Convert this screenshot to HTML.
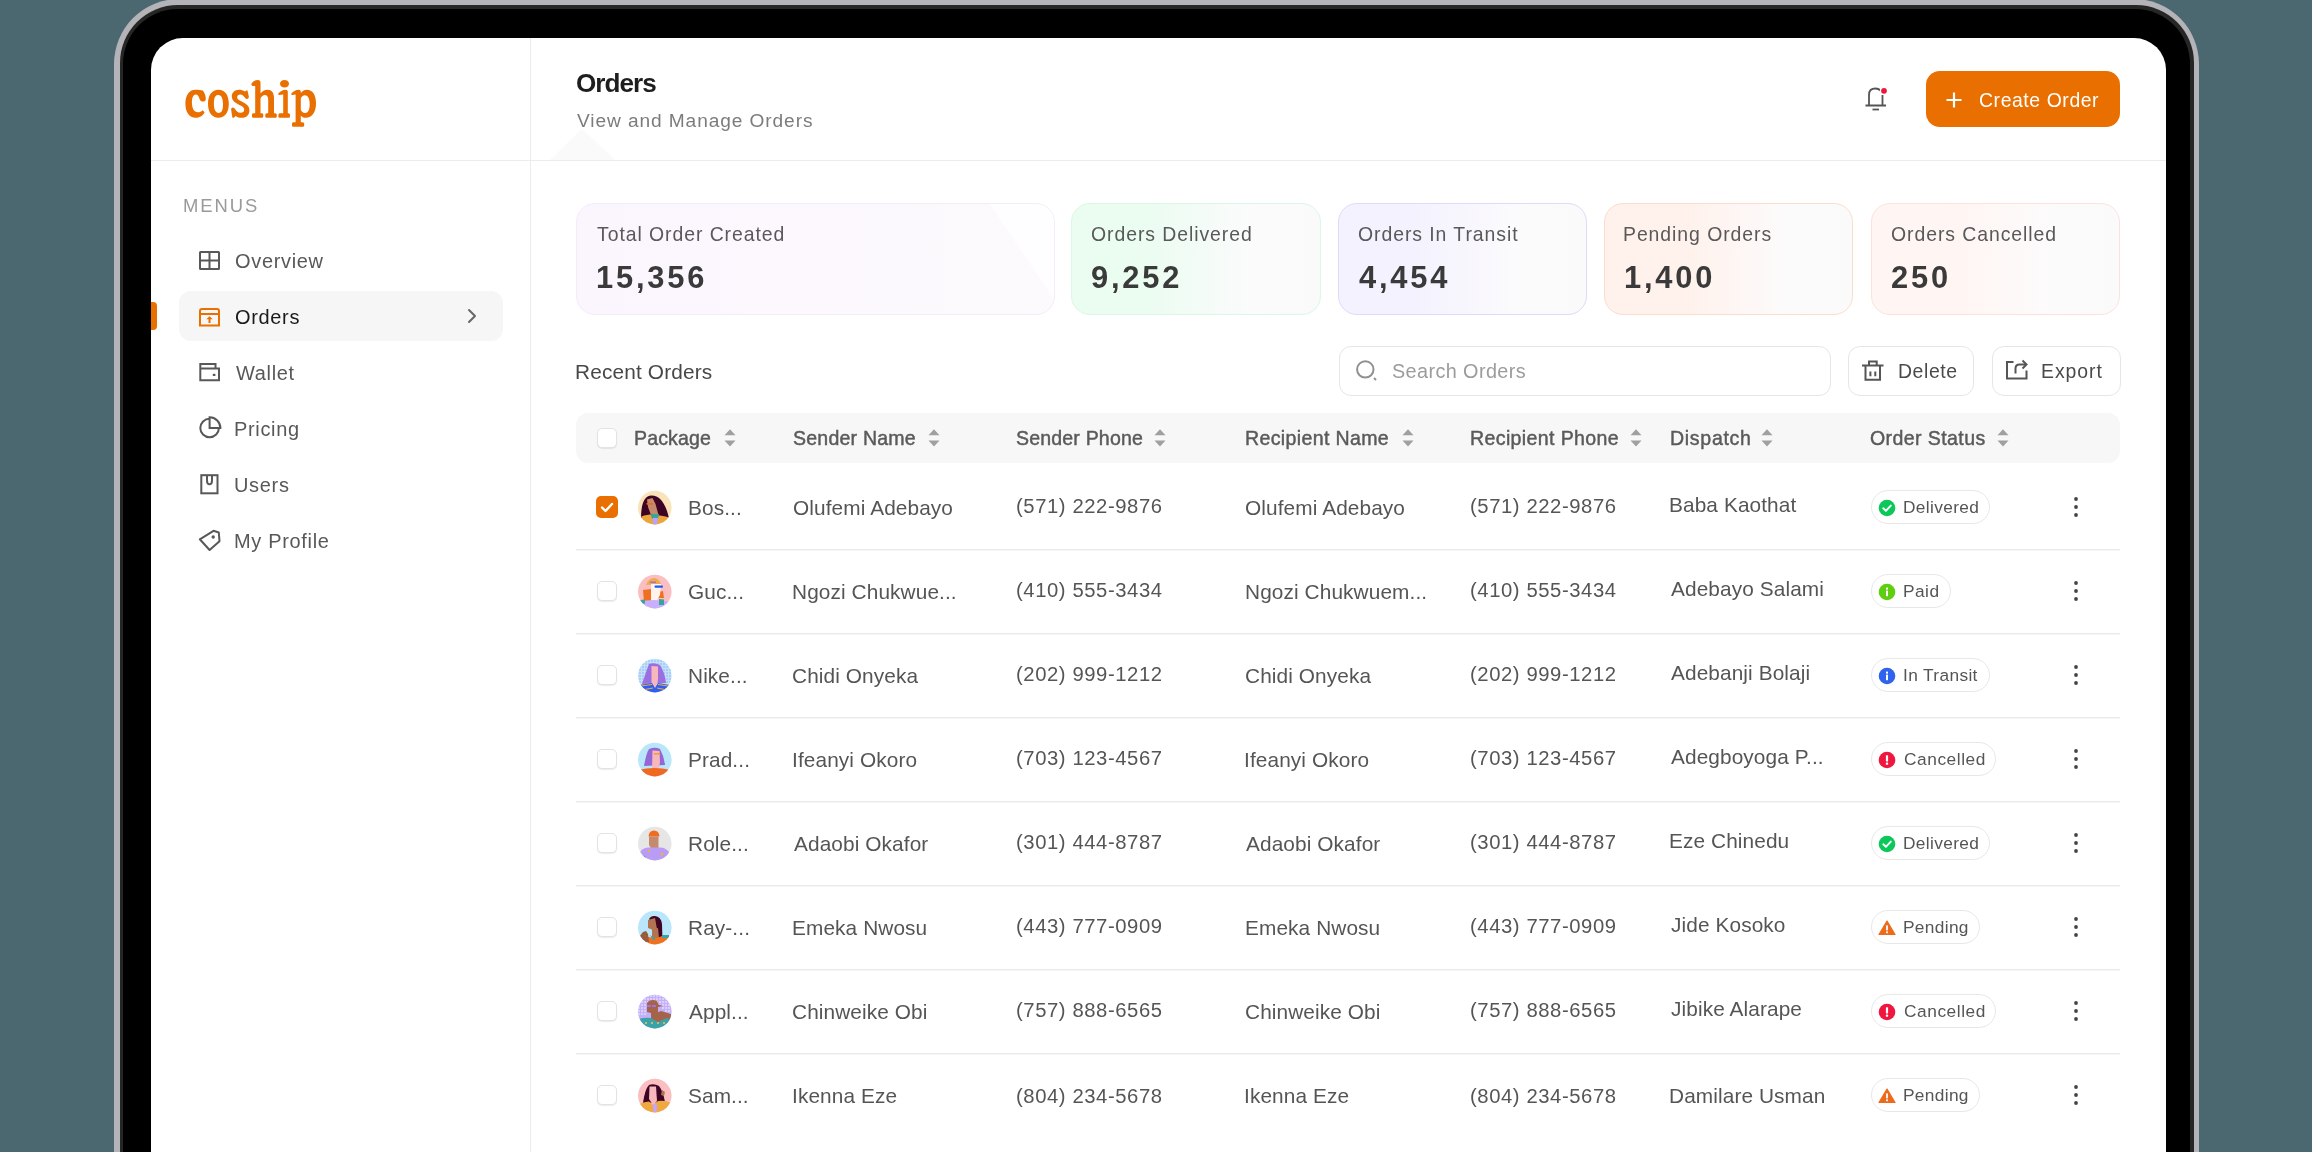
<!DOCTYPE html>
<html><head><meta charset="utf-8"><style>
html,body{margin:0;padding:0;width:2312px;height:1152px;overflow:hidden;background:#4b6770;font-family:"Liberation Sans",sans-serif;}
.t{position:absolute;white-space:nowrap;line-height:1;will-change:transform;}
</style></head><body>
<div style="position:absolute;left:114px;top:-1px;width:2085px;height:1300px;border-radius:65px;background:#b4b3b8"></div>
<div style="position:absolute;left:120px;top:5px;width:2074px;height:1300px;border-radius:58px;background:#262626"></div>
<div style="position:absolute;left:123px;top:9px;width:2067px;height:1300px;border-radius:55px;background:#000"></div>
<div style="position:absolute;left:151px;top:38px;width:2015px;height:1300px;border-radius:32px 32px 0 0;background:#fff;overflow:hidden"></div>
<svg style="position:absolute;left:540px;top:120px" width="90" height="41"><path d="M10 40L42 9L75 40Z" fill="#fafafa"/></svg>
<div style="position:absolute;left:151px;top:160px;width:2015px;height:1px;background:#ececec"></div>
<div style="position:absolute;left:530px;top:38px;width:1px;height:1200px;background:#ececec"></div>
<svg style="position:absolute;left:175px;top:65px" width="160" height="80" viewBox="0 0 160 80"><g fill="#e86f00">
<path fill-rule="evenodd" d="M20.6 24.7 C13.5 24.7 10.4 31 10.4 38.8 C10.4 47 14 52.8 20.8 52.8 C25.2 52.8 28 50.5 29.6 47.3 L27.6 45.2 C26.3 46.6 24.7 47.3 23 47.3 C18.8 47.3 16.9 43 16.9 37.5 C16.9 32.5 18.3 29.4 20.8 29.4 C22.7 29.4 23.8 31.3 24.8 34.5 C25.3 36 26.5 36.6 28 36.6 C30 36.6 30.8 35.4 30.8 33.5 C30.8 31 29.6 27.8 27.8 25.5 C26 24.9 23.5 24.7 20.6 24.7 Z"/>
<path fill-rule="evenodd" d="M43.5 24.7 C37 24.7 33 30 33 38.8 C33 47.5 37 52.8 43.5 52.8 C50 52.8 53.8 47.5 53.8 38.8 C53.8 30 50 24.7 43.5 24.7 Z M43.2 29.9 C40.3 29.9 38.9 32.5 38.9 38.5 C38.9 44.8 40.5 47.9 43.8 47.9 C46.7 47.9 48 45.3 48 39.3 C48 33 46.3 29.9 43.2 29.9 Z"/>
<path d="M72.5 25.5 C71.3 25.4 70.6 26 70 26.6 C68.2 25.3 66 24.7 64.2 24.7 C59.5 24.7 56.8 27.6 56.8 31.3 C56.8 35 59 37 63 39.2 L66.5 41.1 C68.4 42.2 69.2 43.2 69.2 44.7 C69.2 46.4 67.9 47.8 65.4 47.8 C62.8 47.8 61.5 46.4 60.4 44.6 C59.6 43.4 58.8 42.6 57.8 42.6 C56.6 42.6 56 43.5 56.2 45 L57.3 52.2 C57.5 52.8 58.6 53 59.2 52.4 L60.6 51 C62.2 52.3 64.3 52.8 66.7 52.8 C71.4 52.8 74.4 50 74.4 45.5 C74.4 41.5 72.2 39.6 68.5 37.5 L64.8 35.5 C62.8 34.4 62.2 33.6 62.2 32.4 C62.2 30.8 63.2 29.6 65.3 29.6 C67.2 29.6 68.5 30.8 69.6 32.3 C70.3 33.3 71 33.9 71.9 33.9 C73.2 33.9 74 33 73.8 31.6 Z"/>
<path d="M80.2 21 L80.2 48.2 L78.4 48.3 C77.5 48.4 77 49.1 77 50 L77 51.3 C77 52.3 77.6 52.8 78.5 52.8 L86.8 52.8 C87.8 52.8 88.3 52.2 88.3 51.3 L88.3 50 C88.3 49.1 87.7 48.4 86.8 48.3 L85.5 48.2 L85.5 33.6 C86.5 31.2 88 30 89.8 30 C92 30 93.2 31.4 93.2 35 L93.2 48.2 L91.8 48.3 C90.9 48.4 90.3 49.1 90.3 50 L90.3 51.3 C90.3 52.3 90.9 52.8 91.8 52.8 L100.3 52.8 C101.2 52.8 101.8 52.3 101.8 51.3 L101.8 50 C101.8 49.1 101.2 48.4 100.3 48.3 L99 48.2 L99 33.2 C99 27.5 96.6 24.8 92.6 24.8 C89.5 24.8 87.2 26.2 85.5 28.6 L85.5 17.4 C85.5 15.8 84.5 14.9 83 14.9 C80.3 14.9 77.8 16.5 76.6 18.4 C76 19.5 76.5 20.8 77.8 21 Z"/>
<path d="M108.2 29.6 L108.2 48.2 L104.8 48.3 C103.9 48.4 103.4 49.1 103.4 50 L103.4 51.3 C103.4 52.3 104 52.8 104.9 52.8 L113.5 52.8 C114.4 52.8 115 52.3 115 51.3 L115 50 C115 49.1 114.4 48.4 113.5 48.3 L112.8 48.2 L112.8 26.8 C112.8 25.5 112 24.7 110.8 24.7 C107.5 24.8 105 26.6 103.6 28.2 C103 29 103.4 30 104.4 30 Z"/>
<ellipse cx="109.5" cy="18.8" rx="4.5" ry="3.8"/>
<path fill-rule="evenodd" d="M120.6 29.6 L120.6 57.2 L118.4 57.3 C117.5 57.4 117 58.1 117 59 L117 60.3 C117 61.3 117.6 61.8 118.5 61.8 L127.6 61.8 C128.6 61.8 129.2 61.3 129.2 60.3 L129.2 59 C129.2 58.1 128.6 57.4 127.6 57.3 L125.8 57.2 L125.8 50.5 C127 52 128.5 52.8 130.6 52.8 C137.2 52.8 141 47 141 38.2 C141 29.5 137.6 24.7 131.8 24.7 C129 24.7 127.2 26 125.8 28 L125.8 26.8 C125.8 25.5 125 24.7 123.8 24.7 C120.5 24.8 118 26.6 116.6 28.2 C116 29 116.4 30 117.4 30 Z M125.8 33.5 C126.8 31.3 128.2 30.2 129.8 30.2 C132.8 30.2 134.7 33 134.7 39.2 C134.7 45 133 47.9 130.2 47.9 C128.2 47.9 126.8 46.9 125.8 45 Z"/>
</g></svg>
<div class="t" style="left:183.23px;top:197.39px;font-size:18.436px;letter-spacing:1.970px;color:#9a9a9a;font-weight:normal;">MENUS</div>
<div style="position:absolute;left:179px;top:291px;width:324px;height:50px;border-radius:12px;background:#f6f6f6"></div>
<div style="position:absolute;left:151px;top:302px;width:6px;height:28px;border-radius:0 4px 4px 0;background:#e86f00"></div>
<div class="t" style="left:234.90px;top:251.89px;font-size:19.972px;letter-spacing:0.680px;color:#585858;font-weight:normal;">Overview</div>
<div class="t" style="left:234.90px;top:307.89px;font-size:19.972px;letter-spacing:0.680px;color:#1a1a1a;font-weight:normal;">Orders</div>
<div class="t" style="left:235.70px;top:363.89px;font-size:19.972px;letter-spacing:0.680px;color:#585858;font-weight:normal;">Wallet</div>
<div class="t" style="left:234.10px;top:419.89px;font-size:19.972px;letter-spacing:0.680px;color:#585858;font-weight:normal;">Pricing</div>
<div class="t" style="left:234.30px;top:475.89px;font-size:19.972px;letter-spacing:0.680px;color:#585858;font-weight:normal;">Users</div>
<div class="t" style="left:234.10px;top:531.89px;font-size:19.972px;letter-spacing:0.680px;color:#585858;font-weight:normal;">My Profile</div>
<svg style="position:absolute;left:462px;top:305px" width="20" height="22" viewBox="0 0 20 22"><path d="M7 5 L13 11 L7 17" fill="none" stroke="#666" stroke-width="2" stroke-linecap="round" stroke-linejoin="round"/></svg>
<svg style="position:absolute;left:197px;top:250px" width="24" height="22" viewBox="0 0 24 22"><rect x="3" y="2" width="19" height="17" rx="0.5" fill="none" stroke="#585858" stroke-width="2"/><path d="M12.5 2V19M3 10.5H22" stroke="#585858" stroke-width="2"/></svg>
<svg style="position:absolute;left:197px;top:306px" width="24" height="22" viewBox="0 0 24 22"><path d="M3 8H22 M3 19.5V5Q3 3 5 3H20Q22 3 22 5V19.5Z" fill="none" stroke="#e86f00" stroke-width="2"/><path d="M12.5 17V12" stroke="#e86f00" stroke-width="2"/><path d="M9.3 13.3L12.5 10.3L15.7 13.3Z" fill="#e86f00"/></svg>
<svg style="position:absolute;left:197px;top:359px" width="28" height="28" viewBox="0 0 28 28"><g transform="translate(0,3)"><path d="M3.3 6.5V2H18.5V6.5 M3.3 6.5H22V18.3H3.3Z" fill="none" stroke="#585858" stroke-width="2" stroke-linejoin="miter"/><rect x="15.8" y="11.8" width="2.6" height="2.2" fill="#585858"/></g></svg>
<svg style="position:absolute;left:197px;top:415px" width="28" height="28" viewBox="0 0 28 28"><path d="M12.6 3.7A9.3 9.3 0 1 0 21.9 13" fill="none" stroke="#585858" stroke-width="2"/><path d="M12.6 2.3V13.1H23.4A10.8 10.8 0 0 0 12.6 2.3Z" fill="none" stroke="#585858" stroke-width="2" stroke-linejoin="miter"/></svg>
<svg style="position:absolute;left:197px;top:471px" width="28" height="28" viewBox="0 0 28 28"><rect x="4.3" y="4.2" width="16.2" height="18.1" fill="none" stroke="#585858" stroke-width="2"/><path d="M10 4.2V9.5Q10 13.3 12.5 13.3Q15 13.3 15 9.5V4.2" fill="none" stroke="#585858" stroke-width="2"/></svg>
<svg style="position:absolute;left:197px;top:527px" width="28" height="28" viewBox="0 0 28 28"><path d="M2.8 12.3L16.5 3.8L21.8 5.5L22.5 14.2L12.6 23Z" fill="none" stroke="#585858" stroke-width="2" stroke-linejoin="round"/><circle cx="16.2" cy="10" r="1.7" fill="#585858"/></svg>
<div class="t" style="left:575.96px;top:69.89px;font-size:26.117px;letter-spacing:-0.992px;color:#1e1e1e;font-weight:bold;">Orders</div>
<div class="t" style="left:577.00px;top:110.80px;font-size:19.134px;letter-spacing:0.902px;color:#7c7c7c;font-weight:normal;">View and Manage Orders</div>
<svg style="position:absolute;left:1862px;top:83px" width="28" height="30" viewBox="0 0 28 30"><path d="M3.5 22.5H24 M7 22.5V12Q7 5.5 13.5 5.5Q16.5 5.5 18.5 7.5 M20.5 12V22.5" fill="none" stroke="#555" stroke-width="1.8"/><path d="M10.5 26.5H17" stroke="#555" stroke-width="1.8"/><circle cx="22" cy="7.8" r="4.2" fill="#fff"/><circle cx="22" cy="7.8" r="2.9" fill="#f0163a"/></svg>
<div style="position:absolute;left:1926px;top:71px;width:194px;height:56px;border-radius:14px;background:#e86f00"></div>
<svg style="position:absolute;left:1945px;top:91px" width="18" height="18" viewBox="0 0 18 18"><path d="M9 1.5V16.5M1.5 9H16.5" stroke="#fff" stroke-width="2.2"/></svg>
<div class="t" style="left:1979.03px;top:90.67px;font-size:19.413px;letter-spacing:0.576px;color:#fff;font-weight:normal;">Create Order</div>
<div style="position:absolute;left:576px;top:203px;width:479px;height:112px;box-sizing:border-box;border-radius:19px;border:1.5px solid #f4ecfb;background:linear-gradient(90deg,#fbf5fe 0%,#fcf8fe 40%,#fcfafd 100%);overflow:hidden"><svg style="position:absolute;left:0;top:0" width="480" height="112"><path d="M413 0H480V100Z" fill="#fefdff"/></svg></div>
<div class="t" style="left:596.51px;top:224.57px;font-size:19.413px;letter-spacing:0.940px;color:#595959;font-weight:normal;">Total Order Created</div>
<div class="t" style="left:595.55px;top:262.87px;font-size:30.866px;letter-spacing:2.800px;color:#3a3a3a;font-weight:bold;">15,356</div>
<div style="position:absolute;left:1071px;top:203px;width:250px;height:112px;box-sizing:border-box;border-radius:19px;border:1.5px solid #d9f9e4;background:linear-gradient(90deg,#ebfcf1 0%,#ebfcf1 30%,#fcfbfc 75%,#fafafb 100%)"></div>
<div class="t" style="left:1091.12px;top:224.57px;font-size:19.413px;letter-spacing:0.940px;color:#595959;font-weight:normal;">Orders Delivered</div>
<div class="t" style="left:1091.47px;top:262.87px;font-size:30.866px;letter-spacing:2.800px;color:#3a3a3a;font-weight:bold;">9,252</div>
<div style="position:absolute;left:1338px;top:203px;width:249px;height:112px;box-sizing:border-box;border-radius:19px;border:1.5px solid #dedafb;background:linear-gradient(90deg,#f4f2fe 0%,#f4f2fe 30%,#fcfbfc 75%,#fafafb 100%)"></div>
<div class="t" style="left:1358.12px;top:224.57px;font-size:19.413px;letter-spacing:0.940px;color:#595959;font-weight:normal;">Orders In Transit</div>
<div class="t" style="left:1359.09px;top:262.87px;font-size:30.866px;letter-spacing:2.800px;color:#3a3a3a;font-weight:bold;">4,454</div>
<div style="position:absolute;left:1604px;top:203px;width:249px;height:112px;box-sizing:border-box;border-radius:19px;border:1.5px solid #fcdccc;background:linear-gradient(90deg,#fff1eb 0%,#fff1eb 30%,#fcfbfc 75%,#fafafb 100%)"></div>
<div class="t" style="left:1623.35px;top:224.57px;font-size:19.413px;letter-spacing:0.940px;color:#595959;font-weight:normal;">Pending Orders</div>
<div class="t" style="left:1623.55px;top:262.87px;font-size:30.866px;letter-spacing:2.800px;color:#3a3a3a;font-weight:bold;">1,400</div>
<div style="position:absolute;left:1871px;top:203px;width:249px;height:112px;box-sizing:border-box;border-radius:19px;border:1.5px solid #fbe3dc;background:linear-gradient(90deg,#fff5f2 0%,#fff5f2 30%,#fcfbfc 75%,#fafafb 100%)"></div>
<div class="t" style="left:1891.12px;top:224.57px;font-size:19.413px;letter-spacing:0.940px;color:#595959;font-weight:normal;">Orders Cancelled</div>
<div class="t" style="left:1891.47px;top:262.87px;font-size:30.866px;letter-spacing:2.800px;color:#3a3a3a;font-weight:bold;">250</div>
<div class="t" style="left:575.34px;top:361.68px;font-size:20.810px;letter-spacing:0.164px;color:#484848;font-weight:normal;">Recent Orders</div>
<div style="position:absolute;left:1339px;top:346px;width:490px;height:48px;border-radius:12px;border:1px solid #e6e6e6;background:#fff"></div>
<svg style="position:absolute;left:1352px;top:356px" width="28" height="28" viewBox="0 0 28 28"><circle cx="13.3" cy="13.4" r="8.2" fill="none" stroke="#909090" stroke-width="2"/><path d="M22 22L24 24" stroke="#909090" stroke-width="2" stroke-linecap="butt"/></svg>
<div class="t" style="left:1392.01px;top:361.71px;font-size:19.832px;letter-spacing:0.394px;color:#9c9c9c;font-weight:normal;">Search Orders</div>
<div style="position:absolute;left:1848px;top:346px;width:124px;height:48px;border-radius:12px;border:1px solid #e6e6e6;background:#fff"></div>
<svg style="position:absolute;left:1860px;top:358px" width="26" height="26" viewBox="0 0 26 26"><path d="M2 7.5H23.5M9 7.5V3.5H16.7V7.5M5.5 7.5V21.8H20V7.5M10.4 13.5V18.3M15.3 13.5V18.3" fill="none" stroke="#555" stroke-width="2"/></svg>
<div class="t" style="left:1897.95px;top:362.27px;font-size:19.413px;letter-spacing:0.608px;color:#4a4a4a;font-weight:normal;">Delete</div>
<div style="position:absolute;left:1992px;top:346px;width:127px;height:48px;border-radius:12px;border:1px solid #e6e6e6;background:#fff"></div>
<svg style="position:absolute;left:2004px;top:356px" width="26" height="26" viewBox="0 0 26 26"><path d="M9.5 6H3V22.5H22.5V14.5" fill="none" stroke="#555" stroke-width="2"/><path d="M11.5 17.5V12.5Q11.5 8.5 15.5 8.5H22" fill="none" stroke="#555" stroke-width="2"/><path d="M18.5 4.5L22.5 8.5L18.5 12.5" fill="none" stroke="#555" stroke-width="2"/></svg>
<div class="t" style="left:2041.45px;top:362.27px;font-size:19.413px;letter-spacing:0.961px;color:#4a4a4a;font-weight:normal;">Export</div>
<div style="position:absolute;left:576px;top:413px;width:1544px;height:50px;border-radius:12px;background:#f7f7f7"></div>
<div style="position:absolute;left:597px;top:428px;width:18px;height:18px;border-radius:5px;border:1px solid #e3e3e3;background:#fff;box-shadow:0 1px 1px rgba(0,0,0,0.08)"></div>
<div class="t" style="left:634.34px;top:429.15px;font-size:19.553px;letter-spacing:0.146px;color:#5a5a5a;font-weight:normal;-webkit-text-stroke:0.45px #5a5a5a;">Package</div>
<svg style="position:absolute;left:724px;top:429px" width="12" height="18" viewBox="0 0 12 18"><path d="M6 0.2L11.5 6.3H0.5Z M6 17.6L11.5 11.5H0.5Z" fill="#a0a0a0"/></svg>
<div class="t" style="left:792.92px;top:429.15px;font-size:19.553px;letter-spacing:0.205px;color:#5a5a5a;font-weight:normal;-webkit-text-stroke:0.45px #5a5a5a;">Sender Name</div>
<svg style="position:absolute;left:928px;top:429px" width="12" height="18" viewBox="0 0 12 18"><path d="M6 0.2L11.5 6.3H0.5Z M6 17.6L11.5 11.5H0.5Z" fill="#a0a0a0"/></svg>
<div class="t" style="left:1015.52px;top:429.15px;font-size:19.553px;letter-spacing:0.170px;color:#5a5a5a;font-weight:normal;-webkit-text-stroke:0.45px #5a5a5a;">Sender Phone</div>
<svg style="position:absolute;left:1154px;top:429px" width="12" height="18" viewBox="0 0 12 18"><path d="M6 0.2L11.5 6.3H0.5Z M6 17.6L11.5 11.5H0.5Z" fill="#a0a0a0"/></svg>
<div class="t" style="left:1244.94px;top:429.15px;font-size:19.553px;letter-spacing:0.359px;color:#5a5a5a;font-weight:normal;-webkit-text-stroke:0.45px #5a5a5a;">Recipient Name</div>
<svg style="position:absolute;left:1402px;top:429px" width="12" height="18" viewBox="0 0 12 18"><path d="M6 0.2L11.5 6.3H0.5Z M6 17.6L11.5 11.5H0.5Z" fill="#a0a0a0"/></svg>
<div class="t" style="left:1469.54px;top:429.15px;font-size:19.553px;letter-spacing:0.377px;color:#5a5a5a;font-weight:normal;-webkit-text-stroke:0.45px #5a5a5a;">Recipient Phone</div>
<svg style="position:absolute;left:1630px;top:429px" width="12" height="18" viewBox="0 0 12 18"><path d="M6 0.2L11.5 6.3H0.5Z M6 17.6L11.5 11.5H0.5Z" fill="#a0a0a0"/></svg>
<div class="t" style="left:1669.54px;top:429.15px;font-size:19.553px;letter-spacing:0.698px;color:#5a5a5a;font-weight:normal;-webkit-text-stroke:0.45px #5a5a5a;">Dispatch</div>
<svg style="position:absolute;left:1761px;top:429px" width="12" height="18" viewBox="0 0 12 18"><path d="M6 0.2L11.5 6.3H0.5Z M6 17.6L11.5 11.5H0.5Z" fill="#a0a0a0"/></svg>
<div class="t" style="left:1870.02px;top:429.15px;font-size:19.553px;letter-spacing:0.402px;color:#5a5a5a;font-weight:normal;-webkit-text-stroke:0.45px #5a5a5a;">Order Status</div>
<svg style="position:absolute;left:1997px;top:429px" width="12" height="18" viewBox="0 0 12 18"><path d="M6 0.2L11.5 6.3H0.5Z M6 17.6L11.5 11.5H0.5Z" fill="#a0a0a0"/></svg>
<div style="position:absolute;left:576px;top:549px;width:1544px;height:1px;background:#eaeaea"></div><div style="position:absolute;left:576px;top:550px;width:1544px;height:1px;background:#f6f6f6"></div>
<div style="position:absolute;left:596px;top:496px;width:22px;height:22px;border-radius:5px;background:#e86f00"></div>
<svg style="position:absolute;left:596px;top:496px" width="22" height="22" viewBox="0 0 22 22"><path d="M6 11.5L9.5 15L16 8" fill="none" stroke="#fff" stroke-width="2.4" stroke-linecap="round" stroke-linejoin="round"/></svg>
<svg style="position:absolute;left:634px;top:487px" width="42" height="42" viewBox="0 0 42 42"><defs><clipPath id="av0"><circle cx="20.8" cy="20.6" r="16.8"/></clipPath></defs><g clip-path="url(#av0)"><rect width="42" height="42" fill="#fae3b8"/><path d="M7 31 C7 18 10 8.5 17.5 8.5 C25 8.5 30 15 33 24 L35 31 Z" fill="#3d0424"/><path d="M13 12.5 L18.5 11 L21.5 17 L24.5 28 L17 28 L14 20 Z" fill="#c58a6b"/><rect x="12.5" y="16" width="6.5" height="1.6" fill="#f26b1d"/><path d="M4 31 Q10 27.5 16 27.5 L26 28.5 Q32 29 37 31 L37 42 L4 42 Z" fill="#eca53b"/><path d="M16.5 27 L25 27 L24 32 L18 32 Z" fill="#3aa39a"/><path d="M18.5 31 L24 31 L23 38 L19.5 38 Z" fill="#b9a2ff"/></g></svg>
<div class="t" style="left:687.64px;top:498.48px;font-size:20.810px;letter-spacing:0.110px;color:#555555;font-weight:normal;">Bos...</div>
<div class="t" style="left:792.67px;top:498.48px;font-size:20.810px;letter-spacing:0.110px;color:#555555;font-weight:normal;">Olufemi Adebayo</div>
<div class="t" style="left:1015.88px;top:495.76px;font-size:20.251px;letter-spacing:0.580px;color:#555555;font-weight:normal;">(571) 222-9876</div>
<div class="t" style="left:1245.37px;top:498.48px;font-size:20.810px;letter-spacing:0.110px;color:#555555;font-weight:normal;">Olufemi Adebayo</div>
<div class="t" style="left:1470.28px;top:495.76px;font-size:20.251px;letter-spacing:0.580px;color:#555555;font-weight:normal;">(571) 222-9876</div>
<div class="t" style="left:1669.34px;top:495.28px;font-size:20.810px;letter-spacing:0.110px;color:#555555;font-weight:normal;">Baba Kaothat</div>
<div style="position:absolute;left:1870.6px;top:489.8px;width:119.9px;height:34.5px;box-sizing:border-box;border:1.5px solid #e8e8e8;border-radius:17.5px;background:#fff"></div><svg style="position:absolute;left:1878.1px;top:498.7px" width="18" height="18" viewBox="0 0 18 18"><circle cx="9" cy="9" r="8.3" fill="#0cc75a"/><path d="M5.3 9.3L7.9 11.8L12.8 6.6" fill="none" stroke="#fff" stroke-width="1.9" stroke-linecap="round" stroke-linejoin="round"/></svg><div class="t" style="left:1903.41px;top:498.94px;font-size:17.318px;letter-spacing:0.350px;color:#555;font-weight:normal;">Delivered</div>
<svg style="position:absolute;left:2072px;top:496px" width="8" height="22" viewBox="0 0 8 22"><circle cx="4" cy="3" r="1.9" fill="#444"/><circle cx="4" cy="11" r="1.9" fill="#444"/><circle cx="4" cy="19" r="1.9" fill="#444"/></svg>
<div style="position:absolute;left:576px;top:633px;width:1544px;height:1px;background:#eaeaea"></div><div style="position:absolute;left:576px;top:634px;width:1544px;height:1px;background:#f6f6f6"></div>
<div style="position:absolute;left:597px;top:581px;width:18px;height:18px;border-radius:5px;border:1px solid #e3e3e3;background:#fff;box-shadow:0 1px 1px rgba(0,0,0,0.08)"></div>
<svg style="position:absolute;left:634px;top:571px" width="42" height="42" viewBox="0 0 42 42"><defs><clipPath id="av1"><circle cx="20.8" cy="20.6" r="16.8"/></clipPath></defs><g clip-path="url(#av1)"><rect width="42" height="42" fill="#fbbfc1"/><path d="M12 14 Q15 6.5 21 7 Q25 8 27 13 Z" fill="#f0aa4a"/><rect x="16" y="10.5" width="6" height="1.5" fill="#9f72e0"/><path d="M9 19 L17 18 L18 31 L10 31 Z" fill="#f07022"/><path d="M24 21 L29 20 L30 27 L24 27 Z" fill="#f07022"/><path d="M17 13 L27 13 L26 24 L22 31 L17 31 Z" fill="#fff3ec"/><rect x="20.5" y="14.5" width="8.5" height="2.2" rx="1" fill="#1b5cf0"/><path d="M4 31 Q20 27 37 31 L37 42 L4 42 Z" fill="#c9b0ff"/><path d="M6 29 L11 28.5 L11 32.5 L6 33 Z M25 28 L30 28.5 L30 34 L25 34 Z" fill="#3aa39a"/></g></svg>
<div class="t" style="left:688.26px;top:582.48px;font-size:20.810px;letter-spacing:0.110px;color:#555555;font-weight:normal;">Guc...</div>
<div class="t" style="left:791.84px;top:582.48px;font-size:20.810px;letter-spacing:0.110px;color:#555555;font-weight:normal;">Ngozi Chukwue...</div>
<div class="t" style="left:1015.88px;top:579.76px;font-size:20.251px;letter-spacing:0.580px;color:#555555;font-weight:normal;">(410) 555-3434</div>
<div class="t" style="left:1244.54px;top:582.48px;font-size:20.810px;letter-spacing:0.110px;color:#555555;font-weight:normal;">Ngozi Chukwuem...</div>
<div class="t" style="left:1470.28px;top:579.76px;font-size:20.251px;letter-spacing:0.580px;color:#555555;font-weight:normal;">(410) 555-3434</div>
<div class="t" style="left:1671.00px;top:579.28px;font-size:20.810px;letter-spacing:0.110px;color:#555555;font-weight:normal;">Adebayo Salami</div>
<div style="position:absolute;left:1870.6px;top:573.8px;width:80.0px;height:34.5px;box-sizing:border-box;border:1.5px solid #e8e8e8;border-radius:17.5px;background:#fff"></div><svg style="position:absolute;left:1878.1px;top:582.7px" width="18" height="18" viewBox="0 0 18 18"><circle cx="9" cy="9" r="8.3" fill="#5fce10"/><rect x="8" y="7.6" width="2" height="5.6" fill="#fff"/><rect x="8" y="4.6" width="2" height="2" fill="#fff"/></svg><div class="t" style="left:1903.41px;top:582.94px;font-size:17.318px;letter-spacing:0.465px;color:#555;font-weight:normal;">Paid</div>
<svg style="position:absolute;left:2072px;top:580px" width="8" height="22" viewBox="0 0 8 22"><circle cx="4" cy="3" r="1.9" fill="#444"/><circle cx="4" cy="11" r="1.9" fill="#444"/><circle cx="4" cy="19" r="1.9" fill="#444"/></svg>
<div style="position:absolute;left:576px;top:717px;width:1544px;height:1px;background:#eaeaea"></div><div style="position:absolute;left:576px;top:718px;width:1544px;height:1px;background:#f6f6f6"></div>
<div style="position:absolute;left:597px;top:665px;width:18px;height:18px;border-radius:5px;border:1px solid #e3e3e3;background:#fff;box-shadow:0 1px 1px rgba(0,0,0,0.08)"></div>
<svg style="position:absolute;left:634px;top:655px" width="42" height="42" viewBox="0 0 42 42"><defs><clipPath id="av2"><circle cx="20.8" cy="20.6" r="16.8"/></clipPath></defs><g clip-path="url(#av2)"><rect width="42" height="42" fill="#b9e6fa"/><circle cx="6" cy="6" r="0.7" fill="#b48cf0"/><circle cx="6" cy="9" r="0.7" fill="#b48cf0"/><circle cx="6" cy="12" r="0.7" fill="#b48cf0"/><circle cx="6" cy="15" r="0.7" fill="#b48cf0"/><circle cx="6" cy="18" r="0.7" fill="#b48cf0"/><circle cx="6" cy="21" r="0.7" fill="#b48cf0"/><circle cx="6" cy="24" r="0.7" fill="#b48cf0"/><circle cx="6" cy="27" r="0.7" fill="#b48cf0"/><circle cx="9" cy="6" r="0.7" fill="#b48cf0"/><circle cx="9" cy="9" r="0.7" fill="#b48cf0"/><circle cx="9" cy="12" r="0.7" fill="#b48cf0"/><circle cx="9" cy="15" r="0.7" fill="#b48cf0"/><circle cx="9" cy="18" r="0.7" fill="#b48cf0"/><circle cx="9" cy="21" r="0.7" fill="#b48cf0"/><circle cx="9" cy="24" r="0.7" fill="#b48cf0"/><circle cx="9" cy="27" r="0.7" fill="#b48cf0"/><circle cx="12" cy="6" r="0.7" fill="#b48cf0"/><circle cx="12" cy="9" r="0.7" fill="#b48cf0"/><circle cx="12" cy="12" r="0.7" fill="#b48cf0"/><circle cx="12" cy="15" r="0.7" fill="#b48cf0"/><circle cx="12" cy="18" r="0.7" fill="#b48cf0"/><circle cx="12" cy="21" r="0.7" fill="#b48cf0"/><circle cx="12" cy="24" r="0.7" fill="#b48cf0"/><circle cx="12" cy="27" r="0.7" fill="#b48cf0"/><circle cx="15" cy="6" r="0.7" fill="#b48cf0"/><circle cx="15" cy="9" r="0.7" fill="#b48cf0"/><circle cx="15" cy="12" r="0.7" fill="#b48cf0"/><circle cx="15" cy="15" r="0.7" fill="#b48cf0"/><circle cx="15" cy="27" r="0.7" fill="#b48cf0"/><circle cx="18" cy="6" r="0.7" fill="#b48cf0"/><circle cx="18" cy="9" r="0.7" fill="#b48cf0"/><circle cx="18" cy="12" r="0.7" fill="#b48cf0"/><circle cx="21" cy="6" r="0.7" fill="#b48cf0"/><circle cx="21" cy="9" r="0.7" fill="#b48cf0"/><circle cx="21" cy="12" r="0.7" fill="#b48cf0"/><circle cx="24" cy="6" r="0.7" fill="#b48cf0"/><circle cx="24" cy="9" r="0.7" fill="#b48cf0"/><circle cx="24" cy="12" r="0.7" fill="#b48cf0"/><circle cx="27" cy="6" r="0.7" fill="#b48cf0"/><circle cx="27" cy="9" r="0.7" fill="#b48cf0"/><circle cx="27" cy="12" r="0.7" fill="#b48cf0"/><circle cx="27" cy="15" r="0.7" fill="#b48cf0"/><circle cx="27" cy="27" r="0.7" fill="#b48cf0"/><circle cx="30" cy="6" r="0.7" fill="#b48cf0"/><circle cx="30" cy="9" r="0.7" fill="#b48cf0"/><circle cx="30" cy="12" r="0.7" fill="#b48cf0"/><circle cx="30" cy="15" r="0.7" fill="#b48cf0"/><circle cx="30" cy="18" r="0.7" fill="#b48cf0"/><circle cx="30" cy="21" r="0.7" fill="#b48cf0"/><circle cx="30" cy="24" r="0.7" fill="#b48cf0"/><circle cx="30" cy="27" r="0.7" fill="#b48cf0"/><circle cx="33" cy="6" r="0.7" fill="#b48cf0"/><circle cx="33" cy="9" r="0.7" fill="#b48cf0"/><circle cx="33" cy="12" r="0.7" fill="#b48cf0"/><circle cx="33" cy="15" r="0.7" fill="#b48cf0"/><circle cx="33" cy="18" r="0.7" fill="#b48cf0"/><circle cx="33" cy="21" r="0.7" fill="#b48cf0"/><circle cx="33" cy="24" r="0.7" fill="#b48cf0"/><circle cx="33" cy="27" r="0.7" fill="#b48cf0"/><circle cx="36" cy="6" r="0.7" fill="#b48cf0"/><circle cx="36" cy="9" r="0.7" fill="#b48cf0"/><circle cx="36" cy="12" r="0.7" fill="#b48cf0"/><circle cx="36" cy="15" r="0.7" fill="#b48cf0"/><circle cx="36" cy="18" r="0.7" fill="#b48cf0"/><circle cx="36" cy="21" r="0.7" fill="#b48cf0"/><circle cx="36" cy="24" r="0.7" fill="#b48cf0"/><circle cx="36" cy="27" r="0.7" fill="#b48cf0"/><path d="M8 29 Q12 17 15 9 Q20 7 26 10 Q31 18 32 28 Z" fill="#9c6fe0"/><path d="M17.5 11 L24 11.5 L24 24 L23 33 L17.5 33 Z" fill="#f8b7bd"/><path d="M5 30 L18 28 L21 33 L24 28 L36 30 L36 42 L5 42 Z" fill="#2e5ff0"/><path d="M7 31 L18 29.5 M24 29.5 L34 31 M8 35 L19 33 M23 33 L33 35" stroke="#f0a940" stroke-width="1.2"/></g></svg>
<div class="t" style="left:687.64px;top:666.48px;font-size:20.810px;letter-spacing:0.110px;color:#555555;font-weight:normal;">Nike...</div>
<div class="t" style="left:792.46px;top:666.48px;font-size:20.810px;letter-spacing:0.110px;color:#555555;font-weight:normal;">Chidi Onyeka</div>
<div class="t" style="left:1015.88px;top:663.76px;font-size:20.251px;letter-spacing:0.580px;color:#555555;font-weight:normal;">(202) 999-1212</div>
<div class="t" style="left:1245.16px;top:666.48px;font-size:20.810px;letter-spacing:0.110px;color:#555555;font-weight:normal;">Chidi Onyeka</div>
<div class="t" style="left:1470.28px;top:663.76px;font-size:20.251px;letter-spacing:0.580px;color:#555555;font-weight:normal;">(202) 999-1212</div>
<div class="t" style="left:1671.00px;top:663.28px;font-size:20.810px;letter-spacing:0.110px;color:#555555;font-weight:normal;">Adebanji Bolaji</div>
<div style="position:absolute;left:1870.6px;top:657.8px;width:119.6px;height:34.5px;box-sizing:border-box;border:1.5px solid #e8e8e8;border-radius:17.5px;background:#fff"></div><svg style="position:absolute;left:1878.1px;top:666.7px" width="18" height="18" viewBox="0 0 18 18"><circle cx="9" cy="9" r="8.3" fill="#2f63ee"/><rect x="8" y="7.6" width="2" height="5.6" fill="#fff"/><rect x="8" y="4.6" width="2" height="2" fill="#fff"/></svg><div class="t" style="left:1903.24px;top:666.94px;font-size:17.318px;letter-spacing:0.365px;color:#555;font-weight:normal;">In Transit</div>
<svg style="position:absolute;left:2072px;top:664px" width="8" height="22" viewBox="0 0 8 22"><circle cx="4" cy="3" r="1.9" fill="#444"/><circle cx="4" cy="11" r="1.9" fill="#444"/><circle cx="4" cy="19" r="1.9" fill="#444"/></svg>
<div style="position:absolute;left:576px;top:801px;width:1544px;height:1px;background:#eaeaea"></div><div style="position:absolute;left:576px;top:802px;width:1544px;height:1px;background:#f6f6f6"></div>
<div style="position:absolute;left:597px;top:749px;width:18px;height:18px;border-radius:5px;border:1px solid #e3e3e3;background:#fff;box-shadow:0 1px 1px rgba(0,0,0,0.08)"></div>
<svg style="position:absolute;left:634px;top:739px" width="42" height="42" viewBox="0 0 42 42"><defs><clipPath id="av3"><circle cx="20.8" cy="20.6" r="16.8"/></clipPath></defs><g clip-path="url(#av3)"><rect width="42" height="42" fill="#b9e6fa"/><path d="M10 27 Q12 15 15 10 Q21 7.5 26 10 Q30 17 31 26 L10 27 Z" fill="#9566d6"/><path d="M18.5 11.5 L25.5 12 L26 24 L24 31 L18 31 Z" fill="#f8b7bd"/><rect x="20" y="14" width="6" height="1.6" fill="#f0a030"/><path d="M4 31 Q20 27 37 31 L37 42 L4 42 Z" fill="#f0691e"/></g></svg>
<div class="t" style="left:687.64px;top:750.48px;font-size:20.810px;letter-spacing:0.110px;color:#555555;font-weight:normal;">Prad...</div>
<div class="t" style="left:791.63px;top:750.48px;font-size:20.810px;letter-spacing:0.110px;color:#555555;font-weight:normal;">Ifeanyi Okoro</div>
<div class="t" style="left:1015.88px;top:747.76px;font-size:20.251px;letter-spacing:0.580px;color:#555555;font-weight:normal;">(703) 123-4567</div>
<div class="t" style="left:1244.33px;top:750.48px;font-size:20.810px;letter-spacing:0.110px;color:#555555;font-weight:normal;">Ifeanyi Okoro</div>
<div class="t" style="left:1470.28px;top:747.76px;font-size:20.251px;letter-spacing:0.580px;color:#555555;font-weight:normal;">(703) 123-4567</div>
<div class="t" style="left:1671.00px;top:747.28px;font-size:20.810px;letter-spacing:0.110px;color:#555555;font-weight:normal;">Adegboyoga P...</div>
<div style="position:absolute;left:1870.6px;top:741.8px;width:125.9px;height:34.5px;box-sizing:border-box;border:1.5px solid #e8e8e8;border-radius:17.5px;background:#fff"></div><svg style="position:absolute;left:1878.1px;top:750.7px" width="18" height="18" viewBox="0 0 18 18"><circle cx="9" cy="9" r="8.3" fill="#f0173f"/><rect x="7.9" y="4.2" width="2.2" height="6.3" rx="0.6" fill="#fff"/><rect x="7.9" y="11.6" width="2.2" height="2.2" rx="0.6" fill="#fff"/></svg><div class="t" style="left:1903.93px;top:750.94px;font-size:17.318px;letter-spacing:0.552px;color:#555;font-weight:normal;">Cancelled</div>
<svg style="position:absolute;left:2072px;top:748px" width="8" height="22" viewBox="0 0 8 22"><circle cx="4" cy="3" r="1.9" fill="#444"/><circle cx="4" cy="11" r="1.9" fill="#444"/><circle cx="4" cy="19" r="1.9" fill="#444"/></svg>
<div style="position:absolute;left:576px;top:885px;width:1544px;height:1px;background:#eaeaea"></div><div style="position:absolute;left:576px;top:886px;width:1544px;height:1px;background:#f6f6f6"></div>
<div style="position:absolute;left:597px;top:833px;width:18px;height:18px;border-radius:5px;border:1px solid #e3e3e3;background:#fff;box-shadow:0 1px 1px rgba(0,0,0,0.08)"></div>
<svg style="position:absolute;left:634px;top:823px" width="42" height="42" viewBox="0 0 42 42"><defs><clipPath id="av4"><circle cx="20.8" cy="20.6" r="16.8"/></clipPath></defs><g clip-path="url(#av4)"><rect width="42" height="42" fill="#e6e6e6"/><path d="M14.5 13.5 Q15 7.5 20 7.5 Q25 7.5 25.5 13.5 Z" fill="#f06c1e"/><path d="M15 13.5 L24.5 13.5 L24.5 27 L18 27 L15 22 Z" fill="#c58a6b"/><path d="M5 31 Q8 24.5 14 24.5 L27 24.5 Q33 25 36 31 L36 42 L5 42 Z" fill="#b89cf5"/><circle cx="15" cy="28" r="1.3" fill="#f0b040"/><circle cx="28" cy="31" r="1.5" fill="#f0b040"/><circle cx="10" cy="34" r="1.3" fill="#3aa39a"/></g></svg>
<div class="t" style="left:687.64px;top:834.48px;font-size:20.810px;letter-spacing:0.110px;color:#555555;font-weight:normal;">Role...</div>
<div class="t" style="left:793.50px;top:834.48px;font-size:20.810px;letter-spacing:0.110px;color:#555555;font-weight:normal;">Adaobi Okafor</div>
<div class="t" style="left:1015.88px;top:831.76px;font-size:20.251px;letter-spacing:0.580px;color:#555555;font-weight:normal;">(301) 444-8787</div>
<div class="t" style="left:1246.20px;top:834.48px;font-size:20.810px;letter-spacing:0.110px;color:#555555;font-weight:normal;">Adaobi Okafor</div>
<div class="t" style="left:1470.28px;top:831.76px;font-size:20.251px;letter-spacing:0.580px;color:#555555;font-weight:normal;">(301) 444-8787</div>
<div class="t" style="left:1669.34px;top:831.28px;font-size:20.810px;letter-spacing:0.110px;color:#555555;font-weight:normal;">Eze Chinedu</div>
<div style="position:absolute;left:1870.6px;top:825.8px;width:119.9px;height:34.5px;box-sizing:border-box;border:1.5px solid #e8e8e8;border-radius:17.5px;background:#fff"></div><svg style="position:absolute;left:1878.1px;top:834.7px" width="18" height="18" viewBox="0 0 18 18"><circle cx="9" cy="9" r="8.3" fill="#0cc75a"/><path d="M5.3 9.3L7.9 11.8L12.8 6.6" fill="none" stroke="#fff" stroke-width="1.9" stroke-linecap="round" stroke-linejoin="round"/></svg><div class="t" style="left:1903.41px;top:834.94px;font-size:17.318px;letter-spacing:0.350px;color:#555;font-weight:normal;">Delivered</div>
<svg style="position:absolute;left:2072px;top:832px" width="8" height="22" viewBox="0 0 8 22"><circle cx="4" cy="3" r="1.9" fill="#444"/><circle cx="4" cy="11" r="1.9" fill="#444"/><circle cx="4" cy="19" r="1.9" fill="#444"/></svg>
<div style="position:absolute;left:576px;top:969px;width:1544px;height:1px;background:#eaeaea"></div><div style="position:absolute;left:576px;top:970px;width:1544px;height:1px;background:#f6f6f6"></div>
<div style="position:absolute;left:597px;top:917px;width:18px;height:18px;border-radius:5px;border:1px solid #e3e3e3;background:#fff;box-shadow:0 1px 1px rgba(0,0,0,0.08)"></div>
<svg style="position:absolute;left:634px;top:907px" width="42" height="42" viewBox="0 0 42 42"><defs><clipPath id="av5"><circle cx="20.8" cy="20.6" r="16.8"/></clipPath></defs><g clip-path="url(#av5)"><rect width="42" height="42" fill="#b9e6fa"/><path d="M15 12 Q17 8.5 21 9 Q27 9.5 28 17 L28.5 34 L24 34 L22 22 Z" fill="#3d0424"/><path d="M14 13 L21 11 L23 22 L19 23 L14 21 Z" fill="#b47350"/><path d="M18 22 L24 21 L25 31 L18 31 Z" fill="#b47350"/><path d="M14 30 L23 31 L28 29 L36 29 L36 42 L14 42 Z" fill="#f0701e"/><path d="M16 28 L22 32 L19 33 Z M28 28 L35 28 L35 31 L28 31 Z" fill="#3aa3a8"/><path d="M5 30 L9 25 L12 24 L14 27 L15 35 L9 36 Z" fill="#9a5a3c"/></g></svg>
<div class="t" style="left:687.64px;top:918.48px;font-size:20.810px;letter-spacing:0.110px;color:#555555;font-weight:normal;">Ray-...</div>
<div class="t" style="left:791.84px;top:918.48px;font-size:20.810px;letter-spacing:0.110px;color:#555555;font-weight:normal;">Emeka Nwosu</div>
<div class="t" style="left:1015.88px;top:915.76px;font-size:20.251px;letter-spacing:0.580px;color:#555555;font-weight:normal;">(443) 777-0909</div>
<div class="t" style="left:1244.54px;top:918.48px;font-size:20.810px;letter-spacing:0.110px;color:#555555;font-weight:normal;">Emeka Nwosu</div>
<div class="t" style="left:1470.28px;top:915.76px;font-size:20.251px;letter-spacing:0.580px;color:#555555;font-weight:normal;">(443) 777-0909</div>
<div class="t" style="left:1670.79px;top:915.28px;font-size:20.810px;letter-spacing:0.110px;color:#555555;font-weight:normal;">Jide Kosoko</div>
<div style="position:absolute;left:1870.6px;top:909.8px;width:109.5px;height:34.5px;box-sizing:border-box;border:1.5px solid #e8e8e8;border-radius:17.5px;background:#fff"></div><svg style="position:absolute;left:1878.1px;top:918.7px" width="18" height="18" viewBox="0 0 18 18"><path d="M9 2L17 15.5H1Z" fill="#ec6a1c" stroke="#ec6a1c" stroke-width="1.2" stroke-linejoin="round"/><rect x="8.1" y="6.4" width="1.8" height="5" fill="#fff"/><rect x="8.1" y="12.4" width="1.8" height="1.8" fill="#fff"/></svg><div class="t" style="left:1903.41px;top:918.94px;font-size:17.318px;letter-spacing:0.333px;color:#555;font-weight:normal;">Pending</div>
<svg style="position:absolute;left:2072px;top:916px" width="8" height="22" viewBox="0 0 8 22"><circle cx="4" cy="3" r="1.9" fill="#444"/><circle cx="4" cy="11" r="1.9" fill="#444"/><circle cx="4" cy="19" r="1.9" fill="#444"/></svg>
<div style="position:absolute;left:576px;top:1053px;width:1544px;height:1px;background:#eaeaea"></div><div style="position:absolute;left:576px;top:1054px;width:1544px;height:1px;background:#f6f6f6"></div>
<div style="position:absolute;left:597px;top:1001px;width:18px;height:18px;border-radius:5px;border:1px solid #e3e3e3;background:#fff;box-shadow:0 1px 1px rgba(0,0,0,0.08)"></div>
<svg style="position:absolute;left:634px;top:991px" width="42" height="42" viewBox="0 0 42 42"><defs><clipPath id="av6"><circle cx="20.8" cy="20.6" r="16.8"/></clipPath></defs><g clip-path="url(#av6)"><rect width="42" height="42" fill="#c4b0f8"/><circle cx="5" cy="5" r="0.75" fill="#fff"/><circle cx="5" cy="8" r="0.75" fill="#fff"/><circle cx="5" cy="11" r="0.75" fill="#fff"/><circle cx="5" cy="14" r="0.75" fill="#fff"/><circle cx="5" cy="17" r="0.75" fill="#fff"/><circle cx="5" cy="20" r="0.75" fill="#fff"/><circle cx="5" cy="23" r="0.75" fill="#fff"/><circle cx="8" cy="5" r="0.75" fill="#fff"/><circle cx="8" cy="8" r="0.75" fill="#fff"/><circle cx="8" cy="11" r="0.75" fill="#fff"/><circle cx="8" cy="14" r="0.75" fill="#fff"/><circle cx="8" cy="17" r="0.75" fill="#fff"/><circle cx="8" cy="20" r="0.75" fill="#fff"/><circle cx="8" cy="23" r="0.75" fill="#fff"/><circle cx="11" cy="5" r="0.75" fill="#fff"/><circle cx="11" cy="8" r="0.75" fill="#fff"/><circle cx="11" cy="11" r="0.75" fill="#fff"/><circle cx="11" cy="14" r="0.75" fill="#fff"/><circle cx="11" cy="17" r="0.75" fill="#fff"/><circle cx="11" cy="20" r="0.75" fill="#fff"/><circle cx="11" cy="23" r="0.75" fill="#fff"/><circle cx="14" cy="5" r="0.75" fill="#fff"/><circle cx="14" cy="8" r="0.75" fill="#fff"/><circle cx="14" cy="11" r="0.75" fill="#fff"/><circle cx="14" cy="14" r="0.75" fill="#fff"/><circle cx="17" cy="5" r="0.75" fill="#fff"/><circle cx="17" cy="8" r="0.75" fill="#fff"/><circle cx="17" cy="11" r="0.75" fill="#fff"/><circle cx="20" cy="5" r="0.75" fill="#fff"/><circle cx="20" cy="8" r="0.75" fill="#fff"/><circle cx="20" cy="11" r="0.75" fill="#fff"/><circle cx="23" cy="5" r="0.75" fill="#fff"/><circle cx="23" cy="8" r="0.75" fill="#fff"/><circle cx="23" cy="11" r="0.75" fill="#fff"/><circle cx="26" cy="5" r="0.75" fill="#fff"/><circle cx="26" cy="8" r="0.75" fill="#fff"/><circle cx="26" cy="11" r="0.75" fill="#fff"/><circle cx="26" cy="14" r="0.75" fill="#fff"/><circle cx="29" cy="5" r="0.75" fill="#fff"/><circle cx="29" cy="8" r="0.75" fill="#fff"/><circle cx="29" cy="11" r="0.75" fill="#fff"/><circle cx="29" cy="14" r="0.75" fill="#fff"/><circle cx="29" cy="17" r="0.75" fill="#fff"/><circle cx="29" cy="23" r="0.75" fill="#fff"/><circle cx="32" cy="5" r="0.75" fill="#fff"/><circle cx="32" cy="8" r="0.75" fill="#fff"/><circle cx="32" cy="11" r="0.75" fill="#fff"/><circle cx="32" cy="14" r="0.75" fill="#fff"/><circle cx="32" cy="17" r="0.75" fill="#fff"/><circle cx="32" cy="20" r="0.75" fill="#fff"/><circle cx="32" cy="23" r="0.75" fill="#fff"/><circle cx="35" cy="5" r="0.75" fill="#fff"/><circle cx="35" cy="8" r="0.75" fill="#fff"/><circle cx="35" cy="11" r="0.75" fill="#fff"/><circle cx="35" cy="14" r="0.75" fill="#fff"/><circle cx="35" cy="17" r="0.75" fill="#fff"/><circle cx="35" cy="20" r="0.75" fill="#fff"/><circle cx="35" cy="23" r="0.75" fill="#fff"/><path d="M13 12 Q15 9 19 9 Q23 9 24 12 L24 30 L17 30 L17 22 L13 21 Z" fill="#a5634a"/><path d="M23 13 L29 15 L24 16 Z M22 22 L27 20 L37 23 L37 32 L22 32 Z" fill="#a5634a"/><rect x="13" y="14" width="4" height="2" fill="#9f72e0"/><rect x="18" y="14" width="4" height="2" fill="#9f72e0"/><path d="M4 28 Q12 26 17 27 L24 31 L33 27 L37 28 L37 42 L4 42 Z" fill="#3aa3a8"/><circle cx="12" cy="32" r="1" fill="#f0c070"/><circle cx="18" cy="32" r="1" fill="#f0c070"/><circle cx="24" cy="32" r="1" fill="#f0c070"/><circle cx="30" cy="32" r="1" fill="#f0c070"/></g></svg>
<div class="t" style="left:689.30px;top:1002.48px;font-size:20.810px;letter-spacing:0.110px;color:#555555;font-weight:normal;">Appl...</div>
<div class="t" style="left:792.46px;top:1002.48px;font-size:20.810px;letter-spacing:0.110px;color:#555555;font-weight:normal;">Chinweike Obi</div>
<div class="t" style="left:1015.88px;top:999.76px;font-size:20.251px;letter-spacing:0.580px;color:#555555;font-weight:normal;">(757) 888-6565</div>
<div class="t" style="left:1245.16px;top:1002.48px;font-size:20.810px;letter-spacing:0.110px;color:#555555;font-weight:normal;">Chinweike Obi</div>
<div class="t" style="left:1470.28px;top:999.76px;font-size:20.251px;letter-spacing:0.580px;color:#555555;font-weight:normal;">(757) 888-6565</div>
<div class="t" style="left:1670.79px;top:999.28px;font-size:20.810px;letter-spacing:0.110px;color:#555555;font-weight:normal;">Jibike Alarape</div>
<div style="position:absolute;left:1870.6px;top:993.8px;width:125.9px;height:34.5px;box-sizing:border-box;border:1.5px solid #e8e8e8;border-radius:17.5px;background:#fff"></div><svg style="position:absolute;left:1878.1px;top:1002.7px" width="18" height="18" viewBox="0 0 18 18"><circle cx="9" cy="9" r="8.3" fill="#f0173f"/><rect x="7.9" y="4.2" width="2.2" height="6.3" rx="0.6" fill="#fff"/><rect x="7.9" y="11.6" width="2.2" height="2.2" rx="0.6" fill="#fff"/></svg><div class="t" style="left:1903.93px;top:1002.94px;font-size:17.318px;letter-spacing:0.552px;color:#555;font-weight:normal;">Cancelled</div>
<svg style="position:absolute;left:2072px;top:1000px" width="8" height="22" viewBox="0 0 8 22"><circle cx="4" cy="3" r="1.9" fill="#444"/><circle cx="4" cy="11" r="1.9" fill="#444"/><circle cx="4" cy="19" r="1.9" fill="#444"/></svg>
<div style="position:absolute;left:597px;top:1085px;width:18px;height:18px;border-radius:5px;border:1px solid #e3e3e3;background:#fff;box-shadow:0 1px 1px rgba(0,0,0,0.08)"></div>
<svg style="position:absolute;left:634px;top:1075px" width="42" height="42" viewBox="0 0 42 42"><defs><clipPath id="av7"><circle cx="20.8" cy="20.6" r="16.8"/></clipPath></defs><g clip-path="url(#av7)"><rect width="42" height="42" fill="#fbbfc1"/><path d="M9 28 Q11 14 15 10 Q20 8 25 11 Q29 16 31 27 Z" fill="#3d0424"/><path d="M15.5 11.5 L22 11.5 L23 26 L19 30 L15 24 Z" fill="#f8b7bd"/><path d="M4 30 Q8 27 15 26.5 L19 30 L24 26 Q32 25 37 28 L37 42 L4 42 Z" fill="#f0a940"/><path d="M19 29 L23 29 L22.5 37 L19.5 37 Z" fill="#c2a6ff"/><path d="M28 15 L31 17 L30 21 L27 20 Z" fill="#b47350"/></g></svg>
<div class="t" style="left:688.47px;top:1086.48px;font-size:20.810px;letter-spacing:0.110px;color:#555555;font-weight:normal;">Sam...</div>
<div class="t" style="left:791.63px;top:1086.48px;font-size:20.810px;letter-spacing:0.110px;color:#555555;font-weight:normal;">Ikenna Eze</div>
<div class="t" style="left:1015.88px;top:1086.46px;font-size:20.251px;letter-spacing:0.580px;color:#555555;font-weight:normal;">(804) 234-5678</div>
<div class="t" style="left:1244.33px;top:1086.48px;font-size:20.810px;letter-spacing:0.110px;color:#555555;font-weight:normal;">Ikenna Eze</div>
<div class="t" style="left:1470.28px;top:1086.46px;font-size:20.251px;letter-spacing:0.580px;color:#555555;font-weight:normal;">(804) 234-5678</div>
<div class="t" style="left:1669.34px;top:1085.98px;font-size:20.810px;letter-spacing:0.110px;color:#555555;font-weight:normal;">Damilare Usman</div>
<div style="position:absolute;left:1870.6px;top:1077.8px;width:109.5px;height:34.5px;box-sizing:border-box;border:1.5px solid #e8e8e8;border-radius:17.5px;background:#fff"></div><svg style="position:absolute;left:1878.1px;top:1086.7px" width="18" height="18" viewBox="0 0 18 18"><path d="M9 2L17 15.5H1Z" fill="#ec6a1c" stroke="#ec6a1c" stroke-width="1.2" stroke-linejoin="round"/><rect x="8.1" y="6.4" width="1.8" height="5" fill="#fff"/><rect x="8.1" y="12.4" width="1.8" height="1.8" fill="#fff"/></svg><div class="t" style="left:1903.41px;top:1086.94px;font-size:17.318px;letter-spacing:0.333px;color:#555;font-weight:normal;">Pending</div>
<svg style="position:absolute;left:2072px;top:1084px" width="8" height="22" viewBox="0 0 8 22"><circle cx="4" cy="3" r="1.9" fill="#444"/><circle cx="4" cy="11" r="1.9" fill="#444"/><circle cx="4" cy="19" r="1.9" fill="#444"/></svg>
</body></html>
